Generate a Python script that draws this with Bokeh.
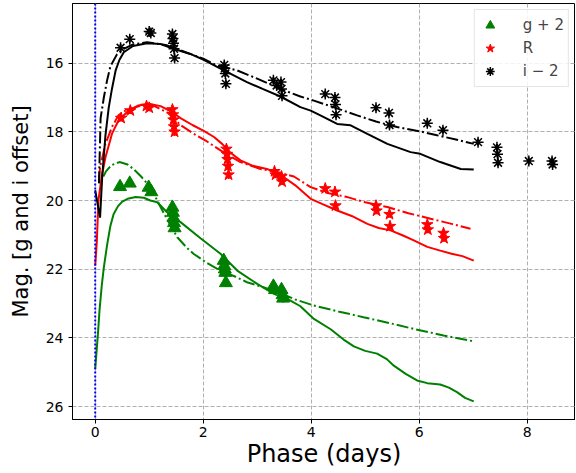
import numpy as np
from bokeh.plotting import figure
from bokeh.models import Range1d, FixedTicker, Span, Legend, LegendItem
from bokeh.embed import file_html
from bokeh.resources import INLINE

# ---------------- observed photometry ----------------
g_phase = [0.46, 0.64, 0.99, 1.04, 1.43, 1.44, 1.45, 1.46, 1.47,
           2.38, 2.39, 2.40, 2.41, 2.42, 3.30, 3.33, 3.45, 3.47, 3.48]
g_mag = [19.60, 19.50, 19.62, 19.75, 20.20, 20.35, 20.50, 20.65, 20.80,
         21.75, 21.90, 22.00, 22.10, 22.40, 22.50, 22.60, 22.60, 22.75, 22.85]
g_err = [0.12, 0.10, 0.10, 0.10, 0.12, 0.12, 0.12, 0.12, 0.12,
         0.12, 0.12, 0.12, 0.12, 0.12, 0.12, 0.12, 0.12, 0.12, 0.12]

r_phase = [0.48, 0.65, 0.95, 1.00, 1.43, 1.44, 1.45, 1.46, 1.47,
           2.43, 2.44, 2.45, 2.46, 2.47, 3.32, 3.34, 3.45, 3.46,
           4.26, 4.44, 4.45, 5.20, 5.21, 5.45, 5.46, 6.15, 6.16, 6.45, 6.46]
r_mag = [17.60, 17.38, 17.25, 17.30, 17.35, 17.50, 17.65, 17.85, 18.00,
         18.50, 18.65, 18.80, 19.00, 19.25, 19.15, 19.25, 19.30, 19.45,
         19.65, 19.75, 20.15, 20.15, 20.30, 20.40, 20.75, 20.70, 20.85, 20.95, 21.10]
r_err = [0.10] * 4 + [0.12] * 5 + [0.12] * 5 + [0.10] * 4 + [0.10] * 11

i_phase = [0.47, 0.64, 1.00, 1.03, 1.43, 1.44, 1.45, 1.46, 1.47,
           2.39, 2.40, 2.41, 2.42, 3.30, 3.36, 3.44, 3.45, 3.46,
           4.26, 4.44, 4.45, 4.46, 5.20, 5.44, 5.45, 6.15, 6.44,
           7.09, 7.44, 7.45, 7.46, 8.03, 8.46, 8.47]
i_mag = [15.55, 15.30, 15.08, 15.12, 15.15, 15.28, 15.42, 15.58, 15.85,
         16.05, 16.15, 16.30, 16.60, 16.50, 16.65, 16.55, 16.75, 16.95,
         16.90, 17.00, 17.20, 17.50, 17.30, 17.45, 17.80, 17.75, 17.95,
         18.30, 18.45, 18.65, 18.90, 18.85, 18.85, 18.95]
i_err = [0.10] * 34

# ---------------- model curves ----------------
g_solid_x = [0.0, 0.05, 0.08, 0.12, 0.16, 0.22, 0.28, 0.34, 0.42, 0.50, 0.60, 0.75,
             0.90, 1.02, 1.15, 1.33, 1.58, 1.95, 2.32, 2.63, 3.00, 3.31, 3.60, 3.80,
             4.05, 4.36, 4.60, 4.79, 5.00, 5.22, 5.40, 5.53, 5.75, 5.96, 6.15, 6.39,
             6.55, 6.70, 6.85, 7.01]
g_solid_y = [24.90, 23.90, 23.20, 22.50, 21.95, 21.30, 20.75, 20.40, 20.17, 20.03, 19.95, 19.90,
             19.92, 20.00, 20.05, 20.34, 20.63, 21.10, 21.55, 22.04, 22.43, 22.72, 22.90, 23.08,
             23.45, 23.75, 24.05, 24.25, 24.38, 24.46, 24.62, 24.81, 25.05, 25.24, 25.32, 25.36,
             25.45, 25.58, 25.75, 25.85]

g_dash_x = [0.15, 0.20, 0.30, 0.45, 0.60, 0.72, 0.85, 0.96, 1.10, 1.21, 1.35, 1.52,
            1.70, 1.82, 2.05, 2.32, 2.60, 2.81, 3.10, 3.43, 3.70, 4.05, 4.50, 4.97,
            5.45, 5.90, 6.45, 7.00]
g_dash_y = [19.30, 19.15, 18.97, 18.88, 18.95, 19.10, 19.30, 19.50, 19.85, 20.19, 20.60, 21.07,
            21.38, 21.55, 21.80, 22.04, 22.22, 22.38, 22.52, 22.70, 22.88, 23.06, 23.23, 23.40,
            23.57, 23.74, 23.93, 24.10]

r_solid_x = [0.0, 0.03, 0.06, 0.12, 0.19, 0.31, 0.43, 0.62, 0.80, 0.99, 1.21, 1.40,
             1.58, 1.80, 2.01, 2.20, 2.35, 2.50, 2.69, 2.90, 3.18, 3.43, 3.70, 3.99,
             4.20, 4.48, 4.75, 5.04, 5.25, 5.47, 5.70, 5.90, 6.15, 6.39, 6.60, 6.80, 7.01]
r_solid_y = [21.90, 21.20, 20.00, 19.30, 18.74, 18.06, 17.67, 17.38, 17.23, 17.18, 17.25, 17.40,
             17.60, 17.80, 17.97, 18.15, 18.35, 18.60, 18.83, 18.98, 19.08, 19.25, 19.55, 19.95,
             20.10, 20.29, 20.45, 20.68, 20.80, 20.87, 21.02, 21.16, 21.35, 21.46, 21.55, 21.62, 21.75]

r_dash_x = [0.07, 0.09, 0.19, 0.31, 0.43, 0.56, 0.86, 1.10, 1.35, 1.58, 1.82, 2.07,
            2.32, 2.69, 3.06, 3.40, 3.68, 3.99, 4.30, 4.67, 5.00, 5.41, 5.80, 6.21, 6.60, 6.95]
r_dash_y = [19.40, 19.03, 18.35, 17.86, 17.52, 17.38, 17.23, 17.25, 17.45, 17.80, 18.05, 18.28,
            18.54, 18.88, 19.08, 19.18, 19.30, 19.61, 19.78, 19.90, 20.05, 20.19, 20.37, 20.53, 20.68, 20.82]

i_solid_x = [0.0, 0.09, 0.13, 0.19, 0.25, 0.31, 0.38, 0.45, 0.53, 0.70, 0.96, 1.21,
             1.45, 1.76, 2.01, 2.32, 2.81, 3.10, 3.43, 3.80, 3.99, 4.17, 4.48, 4.73,
             5.04, 5.41, 5.84, 6.02, 6.39, 6.77, 7.01]
i_solid_y = [19.70, 20.50, 19.30, 18.10, 17.30, 16.75, 16.20, 15.90, 15.68, 15.50, 15.42, 15.44,
             15.58, 15.73, 15.90, 16.16, 16.55, 16.75, 16.97, 17.28, 17.38, 17.52, 17.77, 17.81,
             18.06, 18.35, 18.59, 18.64, 18.88, 19.08, 19.10]

i_dash_x = [0.07, 0.10, 0.16, 0.22, 0.28, 0.40, 0.53, 0.70, 0.96, 1.33, 1.76, 2.00,
            2.26, 2.63, 3.00, 3.43, 3.80, 4.05, 4.45, 4.85, 5.20, 5.59, 6.00, 6.33, 6.70, 7.01]
i_dash_y = [19.50, 17.60, 17.00, 16.50, 16.10, 15.75, 15.58, 15.45, 15.39, 15.48, 15.73, 15.87,
            16.07, 16.21, 16.45, 16.75, 16.97, 17.09, 17.30, 17.52, 17.70, 17.86, 17.98, 18.10, 18.23, 18.35]

x_ticks = [0, 2, 4, 6, 8]
y_ticks = [16, 18, 20, 22, 24, 26]

FONT = "DejaVu Sans"

# canvas / frame geometry
W, H = 575, 472
BL, BR, BT, BB = 72, 0, 3, 53
px_per_day = 54.0
px_per_mag = 34.33
x_start = -(94.7 - BL) / px_per_day
x_end = x_start + (W - BL - BR) / px_per_day
y_top = 16 - (62.7 - BT) / px_per_mag
y_bot = y_top + (H - BT - BB) / px_per_mag

p = figure(width=W, height=H, output_backend="svg", toolbar_location=None,
           x_range=Range1d(x_start, x_end), y_range=Range1d(y_bot, y_top),
           min_border_left=BL, min_border_right=BR, min_border_top=BT, min_border_bottom=BB)

p.background_fill_color = "white"
p.border_fill_color = "white"
p.outline_line_color = "black"
p.outline_line_width = 1

for ax in (p.xaxis[0], p.yaxis[0]):
    ax.axis_line_color = "black"
    ax.major_tick_line_color = "black"
    ax.major_tick_out = 4
    ax.major_tick_in = 0
    ax.minor_tick_line_color = None
    ax.major_label_text_font = FONT
    ax.major_label_text_font_size = "14px"
    ax.major_label_text_color = "black"
    ax.axis_label_text_font = FONT
    ax.axis_label_text_font_style = "normal"
    ax.axis_label_text_color = "black"

p.xaxis.ticker = FixedTicker(ticks=x_ticks)
p.yaxis.ticker = FixedTicker(ticks=y_ticks)
p.xaxis.axis_label = "Phase (days)"
p.yaxis.axis_label = "Mag. [g and i offset]"
p.xaxis.axis_label_text_font_size = "24px"
p.yaxis.axis_label_text_font_size = "21px"
p.xaxis.axis_label_standoff = 0
p.yaxis.axis_label_standoff = 10
p.xaxis.major_label_standoff = 3

for gr in (p.xgrid[0], p.ygrid[0]):
    gr.grid_line_color = "#b0b0b0"
    gr.grid_line_dash = "4 2"
    gr.grid_line_width = 1

p.add_layout(Span(location=0, dimension="height", line_color="blue",
                  line_dash="2 2", line_width=2))

# model curves
p.line(g_solid_x, g_solid_y, line_color="green", line_width=2)
p.line(g_dash_x, g_dash_y, line_color="green", line_width=2, line_dash="12 3 2 3")
p.line(r_solid_x, r_solid_y, line_color="red", line_width=2)
p.line(r_dash_x, r_dash_y, line_color="red", line_width=2, line_dash="12 3 2 3")
p.line(i_solid_x, i_solid_y, line_color="black", line_width=2)
p.line(i_dash_x, i_dash_y, line_color="black", line_width=2, line_dash="12 3 2 3")

def errbars(x, y, e, color):
    x = np.asarray(x); y = np.asarray(y); e = np.asarray(e)
    p.segment(x0=x, y0=y - e, x1=x, y1=y + e, line_color=color, line_width=2)

errbars(g_phase, g_mag, g_err, "green")
g_r = p.scatter(g_phase, g_mag, marker="triangle", size=13, fill_color="green", line_color="green")
errbars(r_phase, r_mag, r_err, "red")
r_r = p.scatter(r_phase, r_mag, marker="star", size=12, fill_color="red", line_color="red")
errbars(i_phase, i_mag, i_err, "black")
i_r = p.scatter(i_phase, i_mag, marker="asterisk", size=11, line_color="black", line_width=1.5)

legend = Legend(items=[LegendItem(label="g + 2", renderers=[g_r]),
                       LegendItem(label="R", renderers=[r_r]),
                       LegendItem(label="i \u2212 2", renderers=[i_r])],
                location="top_right")
legend.label_text_font = FONT
legend.label_text_font_size = "15px"
legend.border_line_color = "#cccccc"
legend.border_line_width = 1
legend.background_fill_alpha = 0.85
legend.margin = 6
legend.padding = 4
legend.spacing = 1
legend.glyph_width = 22
legend.glyph_height = 22
legend.label_standoff = 22
legend.label_height = 22
p.add_layout(legend)

open("out.html", "w").write(file_html(p, INLINE))
